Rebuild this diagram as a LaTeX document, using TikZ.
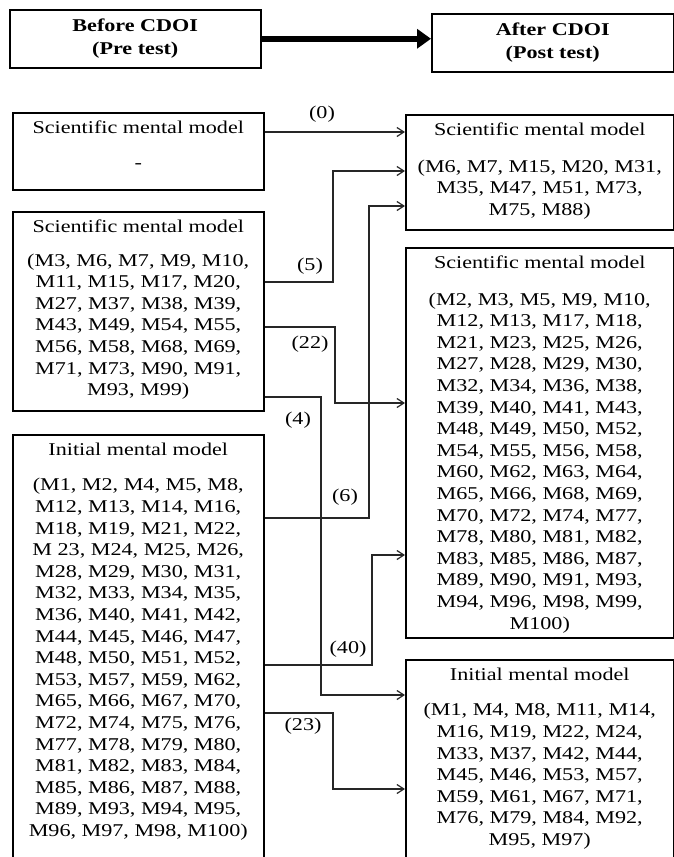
\documentclass[tikz,border=0pt]{standalone}
\usepackage{fontspec}
\setmainfont{Liberation Serif}[FakeStretch=1.23]
\usetikzlibrary{arrows.meta}

% text of a mental-model box, set from the top of a box of given width and height
\newcommand{\modeltext}[3]{%
  \begin{minipage}[t][#2][t]{#1}\centering
    \fontsize{18pt}{21.6pt}\selectfont #3%
  \end{minipage}}

\begin{document}
\begin{tikzpicture}[x=1pt, y=-1pt,
  phase/.style={draw, line width=1.5pt, anchor=north west, inner sep=0pt,
    align=center, font=\fontsize{18pt}{23pt}\selectfont\bfseries},
  model/.style={draw, line width=1.5pt, anchor=north west, inner xsep=0pt, inner ysep=8pt},
  flow/.style={line width=1.2pt, black!85, -{Straight Barb[length=7pt, width=9pt]}},
  count/.style={font=\fontsize{18pt}{21.6pt}\selectfont}]

  \useasboundingbox (0,0) rectangle (674,857);
  \clip (0,0) rectangle (674,857);

  % ── Test phases ────────────────────────────────────────────────────
  \node[phase, minimum width=251pt, minimum height=58pt] (before) at (9,9)
    {Before CDOI\\[0pt](Pre test)};
  \node[phase, minimum width=242pt, minimum height=58pt] (after) at (431,13)
    {After CDOI\\[0pt](Post test)};
  \draw[line width=6.5pt, -{Triangle[length=14pt, width=19pt]}]
    (before.east) -- (before.east -| after.west);

  % ── Pre test models (left) ─────────────────────────────────────────
  \node[model] (pre1) at (12,112) {\modeltext{251pt}{61pt}{%
    Scientific mental model\\[13pt] -}};
  \node[model] (pre2) at (12,211) {\modeltext{251pt}{183pt}{%
    Scientific mental model\\[12pt]
    (M3, M6, M7, M9, M10,\\ M11, M15, M17, M20,\\ M27, M37, M38, M39,\\
    M43, M49, M54, M55,\\ M56, M58, M68, M69,\\ M71, M73, M90, M91,\\ M93, M99)}};
  \node[model] (pre3) at (12,434) {\modeltext{251pt}{430pt}{%
    Initial mental model\\[14pt]
    (M1, M2, M4, M5, M8,\\ M12, M13, M14, M16,\\ M18, M19, M21, M22,\\
    M 23, M24, M25, M26,\\ M28, M29, M30, M31,\\ M32, M33, M34, M35,\\
    M36, M40, M41, M42,\\ M44, M45, M46, M47,\\ M48, M50, M51, M52,\\
    M53, M57, M59, M62,\\ M65, M66, M67, M70,\\ M72, M74, M75, M76,\\
    M77, M78, M79, M80,\\ M81, M82, M83, M84,\\ M85, M86, M87, M88,\\
    M89, M93, M94, M95,\\ M96, M97, M98, M100)}};

  % ── Post test models (right) ───────────────────────────────────────
  \node[model] (post1) at (405,114) {\modeltext{268pt}{99pt}{%
    Scientific mental model\\[15pt]
    (M6, M7, M15, M20, M31,\\ M35, M47, M51, M73,\\ M75, M88)}};
  \node[model] (post2) at (405,247) {\modeltext{268pt}{374pt}{%
    Scientific mental model\\[15pt]
    (M2, M3, M5, M9, M10,\\ M12, M13, M17, M18,\\ M21, M23, M25, M26,\\
    M27, M28, M29, M30,\\ M32, M34, M36, M38,\\ M39, M40, M41, M43,\\
    M48, M49, M50, M52,\\ M54, M55, M56, M58,\\ M60, M62, M63, M64,\\
    M65, M66, M68, M69,\\ M70, M72, M74, M77,\\ M78, M80, M81, M82,\\
    M83, M85, M86, M87,\\ M89, M90, M91, M93,\\ M94, M96, M98, M99,\\ M100)}};
  \node[model] (post3) at (405,659) {\modeltext{268pt}{205pt}{%
    Initial mental model\\[14pt]
    (M1, M4, M8, M11, M14,\\ M16, M19, M22, M24,\\ M33, M37, M42, M44,\\
    M45, M46, M53, M57,\\ M59, M61, M67, M71,\\ M76, M79, M84, M92,\\ M95, M97)}};

  % ── Transitions with student counts ────────────────────────────────
  \draw[flow] (pre1.east |- 0,132) -- (post1.west |- 0,132);
  \node[count] (c0) at (322,114) {(0)};

  \draw[flow] (pre2.east |- 0,282) -| (333,171) -- (post1.west |- 0,171);
  \node[count] (c5) at (310,266) {(5)};

  \draw[flow] (pre2.east |- 0,327) -| (335,403) -- (post2.west |- 0,403);
  \node[count] (c22) at (310,344) {(22)};

  \draw[flow] (pre2.east |- 0,397) -| (321,695) -- (post3.west |- 0,695);
  \node[count] (c4) at (298,420) {(4)};

  \draw[flow] (pre3.east |- 0,518) -| (369,206) -- (post1.west |- 0,206);
  \node[count] (c6) at (345,497) {(6)};

  \draw[flow] (pre3.east |- 0,665) -| (372,555) -- (post2.west |- 0,555);
  \node[count] (c40) at (348,649) {(40)};

  \draw[flow] (pre3.east |- 0,713) -| (333,789) -- (post3.west |- 0,789);
  \node[count] (c23) at (303,726) {(23)};

\end{tikzpicture}
\end{document}
